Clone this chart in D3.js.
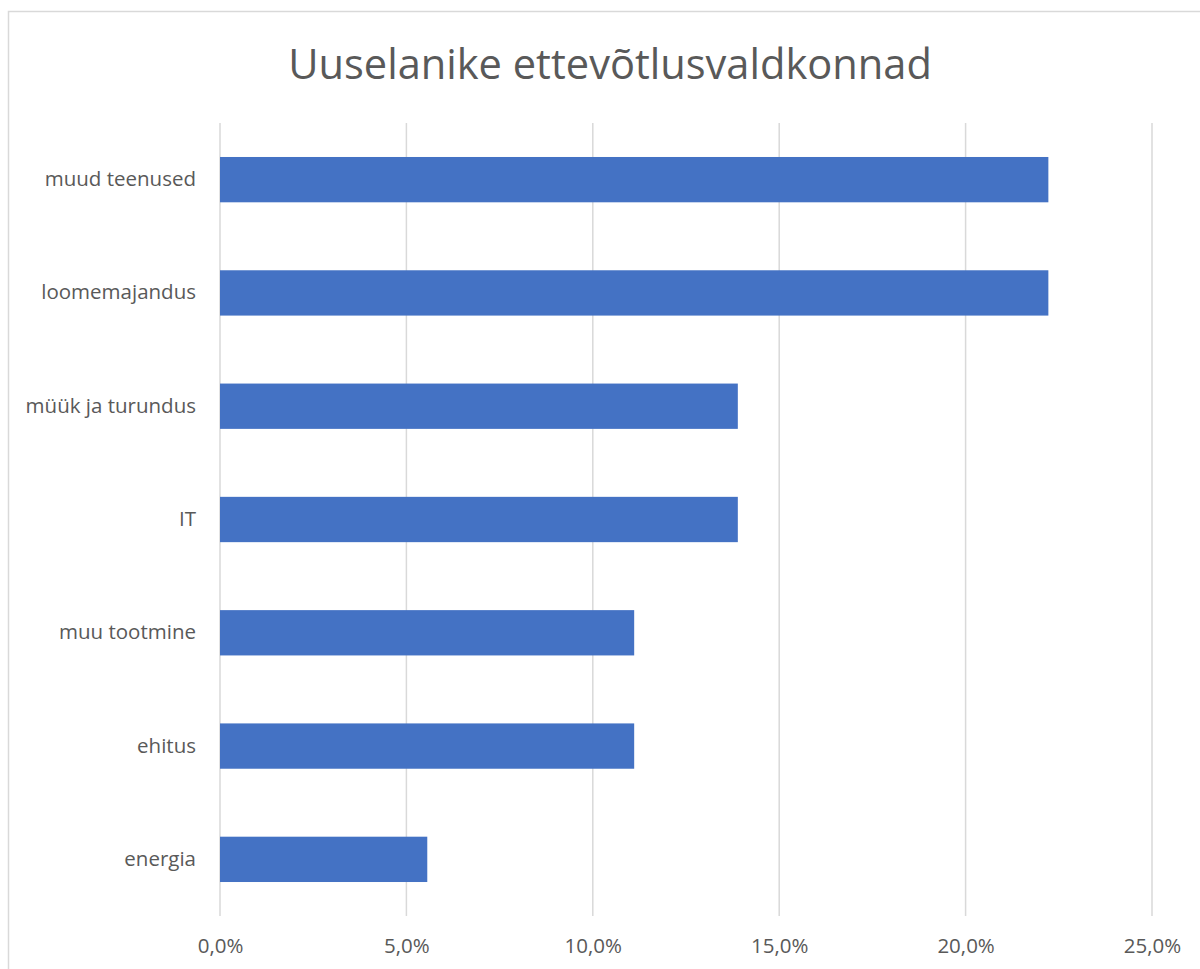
<!DOCTYPE html>
<html>
<head>
<meta charset="utf-8">
<script src="https://cdn.jsdelivr.net/npm/d3@7"></script>
<style>
  html, body { margin: 0; padding: 0; background: #fff; }
  text { font-family: "Open Sans", "Noto Sans", sans-serif; fill: #595959; }
</style>
</head>
<body>
<div id="chart"></div>
<script>
// Chart data (shares of new residents by business field)
const categories = ["muud teenused", "loomemajandus", "müük ja turundus", "IT", "muu tootmine", "ehitus", "energia"];
const values = [0.2222, 0.2222, 0.1389, 0.1389, 0.1111, 0.1111, 0.0556];
const tickValues = [0, 0.05, 0.10, 0.15, 0.20, 0.25];
const title = "Uuselanike ettevõtlusvaldkonnad";

const width = 1200;
const height = 969;
const margin = { top: 123, right: 48, bottom: 53, left: 220 };

const svg = d3.select("#chart")
    .append("svg")
    .attr("width", width)
    .attr("height", height);

// outer chart border (runs off the right/bottom edge in the reference)
svg.append("rect")
    .attr("x", 8.5)
    .attr("y", 11.5)
    .attr("width", width)
    .attr("height", height)
    .attr("fill", "none")
    .attr("stroke", "#d9d9d9")
    .attr("stroke-width", 1.5);

svg.append("text")
    .attr("x", 610)
    .attr("y", 79)
    .attr("text-anchor", "middle")
    .attr("font-size", "41.6px")
    .text(title);

const x = d3.scaleLinear()
    .domain([0, 0.25])
    .range([margin.left, width - margin.right]);

const y = d3.scaleBand()
    .domain(categories)
    .range([margin.top, height - margin.bottom])
    .paddingInner(0.6)
    .paddingOuter(0.3);

const fmt = d => d3.format(".1%")(d).replace(".", ",");

// vertical gridlines
svg.append("g")
    .selectAll("line")
    .data(tickValues)
    .join("line")
    .attr("x1", d => x(d))
    .attr("x2", d => x(d))
    .attr("y1", margin.top)
    .attr("y2", height - margin.bottom)
    .attr("stroke", "#d9d9d9")
    .attr("stroke-width", 1.5);

// bars
svg.append("g")
    .selectAll("rect")
    .data(categories)
    .join("rect")
    .attr("x", x(0))
    .attr("y", d => y(d))
    .attr("width", (d, i) => x(values[i]) - x(0))
    .attr("height", y.bandwidth())
    .attr("fill", "#4472c4");

// x axis labels
const xAxis = d3.axisBottom(x)
    .tickValues(tickValues)
    .tickFormat(fmt)
    .tickSize(0)
    .tickPadding(22);

const gx = svg.append("g")
    .attr("transform", `translate(0,${height - margin.bottom})`)
    .call(xAxis);
gx.select(".domain").remove();
gx.selectAll("text")
    .attr("font-size", "20.5px")
    .attr("fill", "#595959")
    .style("font-family", "'Open Sans', sans-serif");

// y axis labels
const yAxis = d3.axisLeft(y)
    .tickSize(0)
    .tickPadding(24);

const gy = svg.append("g")
    .attr("transform", `translate(${margin.left},0)`)
    .call(yAxis);
gy.select(".domain").remove();
gy.selectAll("text")
    .attr("font-size", "20.5px")
    .attr("fill", "#595959")
    .style("font-family", "'Open Sans', sans-serif");
</script>
</body>
</html>
